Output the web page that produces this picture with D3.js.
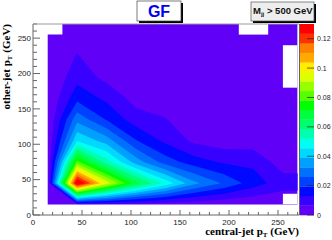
<!DOCTYPE html>
<html><head><meta charset="utf-8">
<script src="https://cdn.jsdelivr.net/npm/d3@7"></script>
<style>html,body{margin:0;padding:0;background:#fff}svg{display:block}text{font-family:"Liberation Sans",Arial,sans-serif}</style>
</head><body><svg id="c" width="332" height="240"></svg>
<script>
const xNodes=[15,45,75,105,135,165,195,225,255,285];
const yNodes=[15,45,75,105,135,165,195,225,255,285];
// rows: y ascending, columns: x ascending
const row15 =[0,0.005,0.005,0.004,0.003,0.002,0.001,0.001,0.001,0.001];
const row45 =[0,0.135,0.095,0.068,0.05,0.034,0.025,0.016,0.0095,0.0095];
const row75 =[0,0.08,0.055,0.036,0.023,0.016,0.012,0.0115,0.003,0.003];
const row105=[0,0.045,0.036,0.02,0.0115,0.005,0.003,0.003,0.002,0.002];
const row135=[0,0.0305,0.019,0.0095,0.0068,0.003,0.002,0.002,0.002,0.002];
const row165=[0,0.0175,0.0115,0.004,0.003,0.002,0.002,0.001,0.001,0.001];
const row195=[0,0.0105,0.0045,0.002,0.002,0.001,0.001,0.001,0.001,0.001];
const row225=[0,0.0069,0.002,0.001,0.001,0.001,0.001,0.001,0.001,0.001];
const row255=[0,0.002,0.001,0.001,0.001,0.001,0.001,0.001,0.001,0.001];
const row285=[0,0.001,0.001,0.001,0.001,0.001,0.001,0.001,0.001,0.001];
const rows=[row15,row45,row75,row105,row135,row165,row195,row225,row255,row285];
const palette=["#6000f6","#3800ff","#0008ff","#0040ff","#0070ff","#00a0ff","#00d8ff","#00fff0","#00ffb0","#00ff70","#00ff40","#00ff00","#55ff00","#99ff00","#ddff00","#ffee00","#ffaa00","#ff8000","#ff3000","#ff0000"];
const zMax=0.13;
const xTicks=[0,50,100,150,200,250];
const yTicks=[0,50,100,150,200,250];
const zTicks=[0,0.02,0.04,0.06,0.08,0.1,0.12];
const title="GF";
const svg=d3.select("#c");
const x=d3.scaleLinear().domain([0,270]).range([33,297.6]);
const y=d3.scaleLinear().domain([0,270]).range([215,24]);
const z=d3.scaleLinear().domain([0,zMax]).range([215,24]);
const W=xNodes.length,H=yNodes.length;
const gx=d3.scaleLinear().domain([0,W-1]).range([xNodes[0],xNodes[W-1]]);
const gy=d3.scaleLinear().domain([0,H-1]).range([yNodes[0],yNodes[H-1]]);
const clip=svg.append("defs").append("clipPath").attr("id","pl");
clip.append("path").attr("d","M"+x(15)+","+y(15)+"H"+x(270)+"V"+y(270)+"H"+x(30)+"V"+y(255)+"H"+x(15)+"Z");
const g=svg.append("g").attr("clip-path","url(#pl)");
g.append("rect").attr("x",x(0)).attr("y",y(270)).attr("width",x(270)-x(0)).attr("height",y(0)-y(270)).attr("fill",palette[0]);
const levels=d3.range(1,20).map(i=>i*zMax/20);
const cont=d3.contours().size([W,H]).smooth(true).thresholds(levels)(rows.flat());
const gp=d3.geoPath(d3.geoTransform({point(px,py){this.stream.point(x(gx(px-0.5)),y(gy(py-0.5)));}}));
g.selectAll("path.c").data(cont).join("path").attr("class","c").attr("d",gp).attr("fill",(d,i)=>palette[i+1]);
[[210,240,255,270],[255,270,180,240],[255,270,15,30]].forEach(b=>{
 g.append("rect").attr("x",x(b[0])).attr("y",y(b[3])).attr("width",x(b[1])-x(b[0])).attr("height",y(b[2])-y(b[3])).attr("fill","#fff");
});
// axes
d3.range(0,271,10).forEach(v=>{const big=v%50===0;
 svg.append("line").attr("x1",x(v)).attr("x2",x(v)).attr("y1",215).attr("y2",215-(big?5:3)).attr("stroke","#222").attr("stroke-width",0.7);
 svg.append("line").attr("y1",y(v)).attr("y2",y(v)).attr("x1",33).attr("x2",33+(big?7:4)).attr("stroke","#222").attr("stroke-width",0.7);
});
svg.append("path").attr("d","M33,24V215H299.5V24").attr("fill","none").attr("stroke","#666").attr("stroke-width",1);
svg.append("line").attr("x1",33).attr("x2",299).attr("y1",24).attr("y2",24).attr("stroke","#999").attr("stroke-width",1);
xTicks.forEach(v=>svg.append("text").attr("x",x(v)).attr("y",224.5).attr("text-anchor","middle").attr("font-size",8).attr("fill","#222").text(v));
yTicks.forEach(v=>svg.append("text").attr("x",31).attr("y",y(v)+2.8).attr("text-anchor","end").attr("font-size",8).attr("fill","#222").text(v));
// titles
const xt=svg.append("text").attr("x",299).attr("y",235).attr("text-anchor","end").attr("font-size",11).attr("font-weight","bold").style("font-family","'Liberation Serif',serif");
xt.append("tspan").text("central-jet p");
xt.append("tspan").attr("font-size",7).attr("dy",2).text("T");
xt.append("tspan").attr("dy",-2).text(" (GeV)");
const yt=svg.append("text").attr("transform","translate(10,24) rotate(-90)").attr("text-anchor","end").attr("font-size",11).attr("font-weight","bold").style("font-family","'Liberation Serif',serif");
yt.append("tspan").text("other-jet p");
yt.append("tspan").attr("font-size",7).attr("dy",2).text("T");
yt.append("tspan").attr("dy",-2).text(" (GeV)");
// colour bar
d3.range(20).forEach(i=>{svg.append("rect").attr("x",300).attr("width",14).attr("y",z((i+1)*zMax/20)).attr("height",z(0)-z(zMax/20)+0.3).attr("fill",palette[i]);});
zTicks.forEach(v=>{svg.append("line").attr("x1",307).attr("x2",314).attr("y1",z(v)).attr("y2",z(v)).attr("stroke","#222").attr("stroke-width",0.7);
 svg.append("text").attr("x",317).attr("y",z(v)+2.6).attr("font-size",7).attr("fill","#222").text(v);});
// title boxes
svg.append("rect").attr("x",139).attr("y",3).attr("width",44).attr("height",20).attr("fill","#000");
svg.append("rect").attr("x",137).attr("y",1).attr("width",44).attr("height",20).attr("fill","#fff").attr("stroke","#444").attr("stroke-width",0.7);
svg.append("text").attr("x",159).attr("y",17).attr("text-anchor","middle").attr("font-size",16).attr("font-weight","bold").attr("fill","#0000ee").text(title);
svg.append("rect").attr("x",253).attr("y",4).attr("width",63).attr("height",19).attr("fill","#000");
svg.append("rect").attr("x",251).attr("y",2).attr("width",63).attr("height",19).attr("fill","#eeeeee").attr("stroke","#555").attr("stroke-width",0.7);
const mt=svg.append("text").attr("x",253).attr("y",13.5).attr("font-size",9.5).attr("font-weight","bold").attr("fill","#111");
mt.append("tspan").text("M");mt.append("tspan").attr("font-size",6).attr("dy",2).text("jj");mt.append("tspan").attr("dy",-2).text(" > 500 GeV");
</script></body></html>
